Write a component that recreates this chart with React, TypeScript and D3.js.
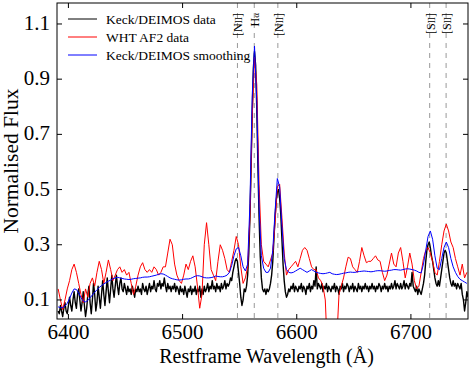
import React, { useEffect, useRef } from 'react'
import * as d3 from 'd3'

// H-alpha region spectrum: Keck/DEIMOS vs WHT AF2

// Keck/DEIMOS data, 1 A sampling from 6391
const keckStart = 6391
const keckStep = 1
const keckFlux = [
  0.06, 0.05, 0.08, 0.06, 0.04, 0.07, 0.09, 0.06, 0.05, 0.08,
  0.11, 0.08, 0.06, 0.10, 0.13, 0.09, 0.07, 0.12, 0.14, 0.10,
  0.06, 0.09, 0.13, 0.08, 0.04, 0.07, 0.12, 0.15, 0.09, 0.05,
  0.10, 0.16, 0.12, 0.06, 0.09, 0.15, 0.11, 0.07, 0.12, 0.17,
  0.12, 0.08, 0.13, 0.18, 0.13, 0.09, 0.14, 0.19, 0.14, 0.11,
  0.15, 0.19, 0.15, 0.12, 0.16, 0.18, 0.14, 0.13, 0.16, 0.14,
  0.12, 0.15, 0.13, 0.14, 0.12, 0.15, 0.13, 0.11, 0.14, 0.13,
  0.15, 0.13, 0.14, 0.12, 0.16, 0.14, 0.13, 0.15, 0.12, 0.14,
  0.16, 0.13, 0.15, 0.14, 0.17, 0.14, 0.13, 0.16, 0.15, 0.17,
  0.14, 0.16, 0.15, 0.18, 0.15, 0.13, 0.16, 0.14, 0.15, 0.13,
  0.15, 0.14, 0.16, 0.13, 0.15, 0.14, 0.12, 0.15, 0.13, 0.14,
  0.12, 0.15, 0.13, 0.11, 0.14, 0.13, 0.15, 0.12, 0.14, 0.13,
  0.15, 0.12, 0.14, 0.13, 0.15, 0.11, 0.14, 0.12, 0.15, 0.13,
  0.14, 0.16, 0.13, 0.15, 0.14, 0.17, 0.14, 0.15, 0.13, 0.16,
  0.14, 0.15, 0.13, 0.16, 0.14, 0.15, 0.17, 0.14, 0.16, 0.15,
  0.16, 0.18, 0.17, 0.20, 0.22, 0.24, 0.25, 0.24, 0.20, 0.16,
  0.11, 0.08, 0.10, 0.14, 0.13, 0.15, 0.19, 0.27, 0.40, 0.58,
  0.78, 0.94, 1.00, 0.95, 0.79, 0.58, 0.40, 0.26, 0.18, 0.14,
  0.13, 0.14, 0.12, 0.14, 0.13, 0.14, 0.16, 0.19, 0.24, 0.32,
  0.40, 0.46, 0.49, 0.50, 0.47, 0.41, 0.32, 0.23, 0.17, 0.13,
  0.11, 0.12, 0.14, 0.13, 0.15, 0.14, 0.16, 0.13, 0.15, 0.14,
  0.13, 0.15, 0.14, 0.16, 0.13, 0.15, 0.14, 0.12, 0.15, 0.14,
  0.16, 0.13, 0.15, 0.14, 0.17, 0.15, 0.22, 0.14, 0.16, 0.15,
  0.14, 0.16, 0.13, 0.15, 0.14, 0.16, 0.13, 0.15, 0.14, 0.13,
  0.15, 0.14, 0.16, 0.13, 0.15, 0.14, 0.12, 0.15, 0.14, 0.16,
  0.13, 0.15, 0.14, 0.16, 0.15, 0.13, 0.15, 0.14, 0.16, 0.13,
  0.15, 0.14, 0.13, 0.16, 0.14, 0.15, 0.13, 0.15, 0.14, 0.16,
  0.14, 0.15, 0.13, 0.15, 0.14, 0.16, 0.14, 0.15, 0.13, 0.15,
  0.14, 0.16, 0.15, 0.13, 0.15, 0.14, 0.16, 0.14, 0.15, 0.13,
  0.15, 0.14, 0.16, 0.14, 0.15, 0.17, 0.14, 0.16, 0.15, 0.14,
  0.16, 0.14, 0.15, 0.17, 0.14, 0.16, 0.15, 0.14, 0.16, 0.15,
  0.20, 0.15, 0.14, 0.13, 0.15, 0.12, 0.14, 0.13, 0.12, 0.14,
  0.16, 0.19, 0.24, 0.28, 0.30, 0.31, 0.29, 0.26, 0.24, 0.21,
  0.18, 0.16, 0.15, 0.17, 0.15, 0.18, 0.21, 0.24, 0.27, 0.28,
  0.27, 0.24, 0.21, 0.18, 0.16, 0.15, 0.17, 0.15, 0.16, 0.14,
  0.16, 0.15, 0.14, 0.16, 0.12, 0.10, 0.06, 0.09, 0.13, 0.11,
]

// WHT AF2 data and the smoothed Keck spectrum, 2 A sampling from 6391
const coarseStart = 6391
const coarseStep = 2
const whtFlux = [
  0.14, 0.10, 0.065, 0.10, 0.14, 0.17, 0.21, 0.23, 0.20, 0.16,
  0.12, 0.09, 0.14, 0.11, 0.16, 0.18, 0.15, 0.20, 0.24, 0.21,
  0.16, 0.20, 0.245, 0.21, 0.17, 0.19, 0.21, 0.22, 0.20, 0.21,
  0.19, 0.20, 0.16, 0.12, 0.15, 0.19, 0.22, 0.235, 0.21, 0.20,
  0.21, 0.20, 0.22, 0.21, 0.19, 0.20, 0.22, 0.22, 0.27, 0.32,
  0.30, 0.23, 0.19, 0.17, 0.16, 0.19, 0.23, 0.21, 0.24, 0.26,
  0.22, 0.15, 0.07, 0.12, 0.30, 0.38, 0.30, 0.21, 0.19, 0.17,
  0.24, 0.30, 0.28, 0.25, 0.21, 0.20, 0.24, 0.28, 0.33, 0.30,
  0.22, 0.16, 0.18, 0.22, 0.40, 0.76, 0.98, 0.88, 0.52, 0.30,
  0.24, 0.23, 0.22, 0.245, 0.27, 0.38, 0.51, 0.52, 0.40, 0.27,
  0.19, 0.21, 0.22, 0.23, 0.24, 0.22, 0.25, 0.28, 0.29, 0.28,
  0.25, 0.22, 0.21, 0.21, 0.18, 0.17, 0.15, 0.10, -0.10, -0.20,
  -0.20, -0.15, -0.05, 0.12, 0.15, 0.18, 0.22, 0.255, 0.25, 0.22,
  0.21, 0.20, 0.24, 0.29, 0.26, 0.235, 0.24, 0.24, 0.25, 0.26,
  0.245, 0.24, 0.20, 0.17, 0.19, 0.23, 0.27, 0.23, 0.22, 0.27,
  0.29, 0.24, 0.18, 0.22, 0.27, 0.23, 0.17, 0.14, 0.15, 0.20,
  0.25, 0.28, 0.29, 0.27, 0.24, 0.20, 0.19, 0.24, 0.30, 0.35,
  0.375, 0.35, 0.31, 0.29, 0.25, 0.22, 0.19, 0.23, 0.18, 0.20,
]
const smoothFlux = [
  0.075, 0.072, 0.073, 0.078, 0.088, 0.105, 0.125, 0.14, 0.138, 0.125,
  0.108, 0.096, 0.093, 0.098, 0.108, 0.118, 0.128, 0.137, 0.145, 0.152,
  0.158, 0.163, 0.168, 0.172, 0.177, 0.18, 0.182, 0.18, 0.178, 0.176,
  0.175, 0.174, 0.175, 0.177, 0.178, 0.179, 0.18, 0.182, 0.183, 0.183,
  0.184, 0.186, 0.188, 0.19, 0.193, 0.195, 0.194, 0.19, 0.185, 0.18,
  0.177, 0.175, 0.173, 0.172, 0.173, 0.175, 0.176, 0.176, 0.178, 0.182,
  0.186, 0.188, 0.187, 0.184, 0.181, 0.18, 0.18, 0.181, 0.183, 0.187,
  0.185, 0.184, 0.184, 0.186, 0.19, 0.20, 0.225, 0.26, 0.285, 0.29,
  0.26, 0.22, 0.205, 0.23, 0.45, 0.84, 1.02, 0.82, 0.44, 0.26,
  0.215, 0.20, 0.20, 0.215, 0.28, 0.42, 0.54, 0.51, 0.37, 0.25,
  0.21, 0.20, 0.198, 0.20, 0.205, 0.21, 0.215, 0.21, 0.205, 0.20,
  0.205, 0.21, 0.205, 0.20, 0.198, 0.196, 0.195, 0.196, 0.198, 0.20,
  0.195, 0.193, 0.192, 0.193, 0.195, 0.197, 0.198, 0.20, 0.201, 0.20,
  0.20, 0.202, 0.203, 0.204, 0.205, 0.204, 0.203, 0.202, 0.203, 0.205,
  0.206, 0.206, 0.205, 0.204, 0.205, 0.207, 0.208, 0.21, 0.21, 0.209,
  0.208, 0.21, 0.212, 0.213, 0.212, 0.21, 0.208, 0.205, 0.20, 0.198,
  0.23, 0.28, 0.33, 0.35, 0.32, 0.26, 0.215, 0.21, 0.25, 0.29,
  0.31, 0.29, 0.25, 0.22, 0.20, 0.185, 0.175, 0.17, 0.165, 0.16,
]

const seriesNames = ['Keck/DEIMOS data', 'WHT AF2 data', 'Keck/DEIMOS smoothing']
const seriesColors = ['#000000', '#ff0000', '#0000ff']

// emission lines: prefix, small part, suffix
const lineWaves = [6548.05, 6562.8, 6583.45, 6716.44, 6730.82]
const lineLabels = [['[N', 'II', ']'], ['H', 'α', ''], ['[N', 'II', ']'], ['[S', 'II', ']'], ['[S', 'II', ']']]

const xTicks = [6400, 6500, 6600, 6700]
const yTicks = [0.1, 0.3, 0.5, 0.7, 0.9, 1.1]

const W = 471
const H = 369
const FONT = '"Liberation Serif", "Times New Roman", serif'

const App = () => {
  const ref = useRef<SVGSVGElement>(null)

  useEffect(() => {
    const svg = d3.select(ref.current)
    svg.selectAll('*').remove()

    const left = 57, right = 468, top = 3, bottom = 319
    const x = d3.scaleLinear().domain([6390, 6750]).range([left, right])
    const y = d3.scaleLinear().domain([0.031, 1.176]).range([bottom, top])

    svg.append('defs').append('clipPath').attr('id', 'plot-clip')
      .append('rect')
      .attr('x', left).attr('y', top)
      .attr('width', right - left).attr('height', bottom - top)

    // emission line markers
    svg.append('g')
      .selectAll('line')
      .data(lineWaves)
      .join('line')
      .attr('x1', d => x(d)).attr('x2', d => x(d))
      .attr('y1', top).attr('y2', bottom)
      .attr('stroke', '#999')
      .attr('stroke-width', 1)
      .attr('stroke-dasharray', '5,5')

    const toPts = (vals: number[], start: number, step: number) =>
      vals.map((v, i) => [start + i * step, v] as [number, number])

    const series = [
      toPts(keckFlux, keckStart, keckStep),
      toPts(whtFlux, coarseStart, coarseStep),
      toPts(smoothFlux, coarseStart, coarseStep),
    ]
    const widths = [1.4, 1, 1]

    const line = d3.line<[number, number]>()
      .x(d => x(d[0]))
      .y(d => y(d[1]))

    const plot = svg.append('g').attr('clip-path', 'url(#plot-clip)')
    series.forEach((pts, i) => {
      plot.append('path')
        .datum(pts)
        .attr('d', line)
        .attr('fill', 'none')
        .attr('stroke', seriesColors[i])
        .attr('stroke-width', widths[i])
        .attr('stroke-linejoin', 'round')
    })

    // line labels, rotated
    svg.append('g')
      .attr('font-family', FONT)
      .attr('font-size', 12)
      .selectAll('text')
      .data(lineWaves)
      .join('text')
      .attr('transform', d => `translate(${x(d) + 5},13) rotate(-90)`)
      .attr('text-anchor', 'end')
      .each(function (d, i) {
        const [a, b, c] = lineLabels[i]
        const t = d3.select(this)
        t.append('tspan').text(a)
        t.append('tspan').attr('font-size', b === 'α' ? 9 : 9.5).text(b)
        if (c) t.append('tspan').text(c)
      })

    // frame
    svg.append('rect')
      .attr('x', left).attr('y', top)
      .attr('width', right - left).attr('height', bottom - top)
      .attr('fill', 'none').attr('stroke', '#000').attr('stroke-width', 1)

    const tl = 5
    const ticks = svg.append('g').attr('stroke', '#000').attr('stroke-width', 1)
    xTicks.forEach(t => {
      ticks.append('line').attr('x1', x(t)).attr('x2', x(t)).attr('y1', bottom).attr('y2', bottom - tl)
      ticks.append('line').attr('x1', x(t)).attr('x2', x(t)).attr('y1', top).attr('y2', top + tl)
    })
    yTicks.forEach(t => {
      ticks.append('line').attr('x1', left).attr('x2', left + tl).attr('y1', y(t)).attr('y2', y(t))
      ticks.append('line').attr('x1', right).attr('x2', right - tl).attr('y1', y(t)).attr('y2', y(t))
    })

    svg.append('g')
      .attr('font-family', FONT).attr('font-size', 21)
      .attr('text-anchor', 'middle')
      .selectAll('text')
      .data(xTicks)
      .join('text')
      .attr('x', d => x(d)).attr('y', 339)
      .text(d => d)

    svg.append('g')
      .attr('font-family', FONT).attr('font-size', 21)
      .attr('text-anchor', 'end')
      .selectAll('text')
      .data(yTicks)
      .join('text')
      .attr('x', 50).attr('y', d => y(d) + 6)
      .text(d => d3.format('.1f')(d))

    svg.append('text')
      .attr('font-family', FONT).attr('font-size', 20)
      .attr('text-anchor', 'middle')
      .attr('x', (left + right) / 2 + 4).attr('y', 363)
      .text('Restframe Wavelength (Å)')

    svg.append('text')
      .attr('font-family', FONT).attr('font-size', 21.5)
      .attr('text-anchor', 'middle')
      .attr('transform', `translate(18,${(top + bottom) / 2}) rotate(-90)`)
      .text('Normalised Flux')

    // legend
    const leg = svg.append('g').attr('font-family', FONT).attr('font-size', 13.5)
    seriesNames.forEach((name, i) => {
      const ly = 19 + i * 18
      leg.append('line')
        .attr('x1', 68).attr('x2', 97).attr('y1', ly).attr('y2', ly)
        .attr('stroke', seriesColors[i]).attr('stroke-width', 1)
      leg.append('text').attr('x', 106).attr('y', ly + 4.5).text(name)
    })
  }, [])

  return <div style={{ position: 'absolute', left: 0, top: 0 }}>
    <svg ref={ref} width={W} height={H} style={{ display: 'block', background: '#fff' }} />
  </div>
}

export default App
